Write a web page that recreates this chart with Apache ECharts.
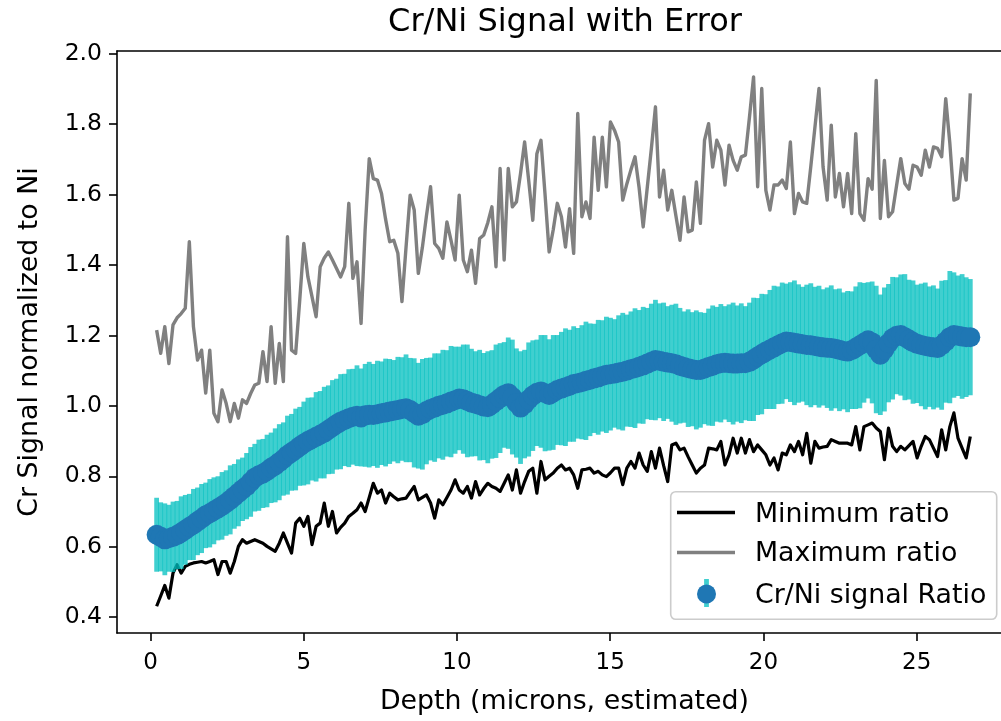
<!DOCTYPE html>
<html>
<head>
<meta charset="utf-8">
<script src="https://cdn.jsdelivr.net/npm/echarts@6.0.0/dist/echarts.min.js"></script>
<style>
html,body{margin:0;padding:0;background:#fff;}
#chart{width:1001px;height:721px;}
</style>
</head>
<body>
<div id="chart"></div>
<script>
// ---------------- data ----------------
const depth = [
0.200,0.333,0.467,0.600,0.734,0.867,1.000,1.134,1.267,1.401,
1.534,1.667,1.801,1.934,2.068,2.201,2.334,2.468,2.601,2.735,
2.868,3.001,3.135,3.268,3.402,3.535,3.668,3.802,3.935,4.069,
4.202,4.335,4.469,4.602,4.736,4.869,5.002,5.136,5.269,5.403,
5.536,5.669,5.803,5.936,6.070,6.203,6.336,6.470,6.603,6.737,
6.870,7.003,7.137,7.270,7.404,7.537,7.670,7.804,7.937,8.071,
8.204,8.337,8.471,8.604,8.738,8.871,9.004,9.138,9.271,9.405,
9.538,9.671,9.805,9.938,10.072,10.205,10.338,10.472,10.605,10.739,
10.872,11.005,11.139,11.272,11.406,11.539,11.672,11.806,11.939,12.073,
12.206,12.339,12.473,12.606,12.740,12.873,13.006,13.140,13.273,13.407,
13.540,13.673,13.807,13.940,14.074,14.207,14.340,14.474,14.607,14.741,
14.874,15.007,15.141,15.274,15.408,15.541,15.674,15.808,15.941,16.075,
16.208,16.341,16.475,16.608,16.742,16.875,17.008,17.142,17.275,17.409,
17.542,17.675,17.809,17.942,18.076,18.209,18.342,18.476,18.609,18.743,
18.876,19.009,19.143,19.276,19.410,19.543,19.676,19.810,19.943,20.077,
20.210,20.343,20.477,20.610,20.744,20.877,21.010,21.144,21.277,21.411,
21.544,21.677,21.811,21.944,22.078,22.211,22.344,22.478,22.611,22.745,
22.878,23.011,23.145,23.278,23.412,23.545,23.678,23.812,23.945,24.079,
24.212,24.345,24.479,24.612,24.746,24.879,25.012,25.146,25.279,25.413,
25.546,25.679,25.813,25.946,26.080,26.213,26.346,26.480,26.613,26.747
];

const minRatio = [
0.431,0.46,0.49,0.454,0.525,0.549,0.525,0.544,0.55,0.554,
0.556,0.558,0.554,0.558,0.563,0.521,0.558,0.558,0.525,0.558,
0.601,0.620,0.610,0.615,0.620,0.615,0.610,0.601,0.594,0.587,
0.610,0.639,0.610,0.582,0.667,0.681,0.658,0.686,0.606,0.658,
0.667,0.724,0.658,0.700,0.639,0.655,0.667,0.686,0.695,0.705,
0.724,0.700,0.74,0.780,0.752,0.761,0.724,0.752,0.742,0.733,
0.736,0.738,0.755,0.771,0.733,0.74,0.747,0.724,0.681,0.733,
0.719,0.74,0.761,0.790,0.761,0.752,0.771,0.738,0.785,0.747,
0.765,0.780,0.771,0.766,0.757,0.78,0.804,0.761,0.818,0.752,
0.785,0.814,0.823,0.752,0.842,0.790,0.80,0.809,0.823,0.832,
0.818,0.823,0.804,0.766,0.818,0.82,0.823,0.809,0.814,0.804,
0.799,0.81,0.823,0.823,0.776,0.823,0.842,0.823,0.866,0.832,
0.814,0.870,0.823,0.880,0.83,0.785,0.889,0.894,0.875,0.880,
0.855,0.832,0.809,0.823,0.832,0.880,0.878,0.875,0.899,0.832,
0.861,0.908,0.866,0.908,0.866,0.904,0.870,0.889,0.875,0.861,
0.832,0.852,0.818,0.866,0.861,0.889,0.870,0.899,0.861,0.922,
0.837,0.899,0.880,0.883,0.885,0.904,0.899,0.894,0.894,0.894,
0.889,0.941,0.875,0.941,0.946,0.951,0.937,0.927,0.847,0.937,
0.885,0.870,0.885,0.875,0.887,0.899,0.852,0.885,0.913,0.904,
0.88,0.856,0.932,0.875,0.941,0.980,0.908,0.88,0.852,0.913
];

const maxRatio = [
1.215,1.149,1.225,1.12,1.23,1.25,1.262,1.277,1.466,1.225,
1.13,1.158,1.036,1.158,0.979,0.955,1.045,1.007,0.955,1.007,
0.965,1.017,1.007,1.035,1.059,1.064,1.154,1.069,1.225,1.064,
1.177,1.069,1.48,1.158,1.149,1.30,1.461,1.366,1.31,1.253,
1.395,1.42,1.437,1.414,1.39,1.366,1.395,1.575,1.362,1.409,
1.234,1.50,1.702,1.645,1.641,1.603,1.53,1.466,1.47,1.433,
1.296,1.45,1.598,1.556,1.376,1.45,1.54,1.622,1.461,1.447,
1.419,1.522,1.47,1.414,1.598,1.414,1.381,1.442,1.348,1.475,
1.485,1.52,1.565,1.395,1.674,1.414,1.674,1.565,1.579,1.66,
1.749,1.64,1.527,1.716,1.754,1.60,1.437,1.50,1.575,1.537,
1.451,1.560,1.433,1.830,1.537,1.579,1.532,1.763,1.612,1.763,
1.622,1.806,1.782,1.749,1.584,1.63,1.67,1.707,1.62,1.508,
1.62,1.73,1.849,1.593,1.669,1.556,1.612,1.54,1.47,1.593,
1.494,1.499,1.636,1.518,1.754,1.801,1.678,1.754,1.726,1.627,
1.740,1.697,1.669,1.707,1.712,1.820,1.934,1.622,1.901,1.612,
1.556,1.627,1.627,1.641,1.617,1.749,1.546,1.603,1.579,1.575,
1.68,1.79,1.901,1.678,1.584,1.797,1.593,1.660,1.565,1.660,
1.546,1.773,1.546,1.527,1.645,1.615,1.924,1.532,1.697,1.537,
1.551,1.627,1.702,1.631,1.615,1.683,1.678,1.655,1.726,1.678,
1.735,1.731,1.707,1.872,1.745,1.584,1.589,1.702,1.641,1.887
];

const meanRatio = [
0.634,0.628,0.621,0.624,0.628,0.633,0.640,0.648,0.656,0.663,
0.672,0.680,0.689,0.695,0.702,0.709,0.716,0.724,0.733,0.743,
0.753,0.763,0.772,0.784,0.796,0.803,0.808,0.815,0.824,0.831,
0.840,0.849,0.860,0.868,0.876,0.885,0.893,0.900,0.906,0.912,
0.918,0.924,0.932,0.940,0.948,0.955,0.960,0.965,0.969,0.972,
0.967,0.973,0.975,0.974,0.976,0.979,0.981,0.984,0.986,0.988,
0.991,0.993,0.988,0.980,0.972,0.976,0.985,0.991,0.995,1.000,
1.003,1.007,1.012,1.016,1.021,1.019,1.014,1.009,1.006,1.002,
0.998,0.996,1.004,1.013,1.022,1.031,1.036,1.025,1.008,0.995,
1.005,1.018,1.029,1.037,1.041,1.036,1.031,1.038,1.045,1.049,
1.053,1.057,1.062,1.064,1.067,1.071,1.074,1.078,1.081,1.085,
1.088,1.090,1.092,1.095,1.097,1.100,1.104,1.107,1.111,1.115,
1.120,1.125,1.130,1.128,1.125,1.123,1.121,1.118,1.114,1.110,
1.107,1.104,1.102,1.102,1.106,1.110,1.114,1.118,1.121,1.122,
1.121,1.120,1.120,1.121,1.121,1.125,1.132,1.140,1.147,1.154,
1.160,1.166,1.172,1.178,1.183,1.181,1.179,1.177,1.175,1.173,
1.172,1.170,1.168,1.166,1.165,1.164,1.162,1.159,1.156,1.154,
1.158,1.165,1.172,1.179,1.186,1.180,1.160,1.145,1.160,1.178,
1.192,1.199,1.201,1.195,1.188,1.181,1.176,1.173,1.170,1.168,
1.166,1.164,1.172,1.183,1.195,1.201,1.199,1.197,1.195,1.195
];

const ratioError = [
0.105,0.098,0.102,0.095,0.100,0.097,0.103,0.099,0.094,0.101,
0.096,0.098,0.093,0.097,0.095,0.091,0.096,0.093,0.098,0.092,
0.095,0.090,0.094,0.099,0.096,0.101,0.098,0.103,0.100,0.105,
0.108,0.104,0.112,0.109,0.116,0.112,0.119,0.123,0.118,0.127,
0.124,0.130,0.126,0.133,0.129,0.135,0.131,0.139,0.136,0.143,
0.139,0.146,0.150,0.145,0.152,0.147,0.153,0.149,0.144,0.151,
0.147,0.153,0.148,0.155,0.150,0.157,0.151,0.146,0.154,0.149,
0.156,0.151,0.158,0.152,0.147,0.155,0.160,0.153,0.149,0.157,
0.152,0.159,0.154,0.161,0.156,0.150,0.158,0.163,0.155,0.160,
0.154,0.162,0.157,0.151,0.160,0.165,0.158,0.163,0.156,0.161,
0.167,0.159,0.164,0.157,0.162,0.168,0.160,0.155,0.163,0.158,
0.165,0.160,0.154,0.162,0.167,0.159,0.164,0.170,0.161,0.166,
0.158,0.165,0.171,0.163,0.168,0.160,0.166,0.172,0.164,0.158,
0.167,0.162,0.169,0.164,0.158,0.166,0.171,0.163,0.168,0.161,
0.167,0.173,0.165,0.170,0.162,0.168,0.175,0.166,0.171,0.163,
0.169,0.175,0.167,0.172,0.164,0.170,0.177,0.168,0.163,0.171,
0.176,0.168,0.173,0.165,0.171,0.178,0.169,0.174,0.166,0.172,
0.167,0.174,0.179,0.170,0.165,0.173,0.181,0.171,0.176,0.168,
0.174,0.166,0.172,0.179,0.170,0.175,0.168,0.174,0.180,0.171,
0.176,0.169,0.183,0.174,0.188,0.178,0.171,0.177,0.170,0.165
];

const xTicks = [0, 5, 10, 15, 20, 25];
const yTicks = [0.4, 0.6, 0.8, 1.0, 1.2, 1.4, 1.6, 1.8, 2.0];
const titleText = 'Cr/Ni Signal with Error';
const xLabel = 'Depth (microns, estimated)';
const yLabel = 'Cr Signal normalized to Ni';
const legendNames = ['Minimum ratio', 'Maximum ratio', 'Cr/Ni signal Ratio'];

// ---------------- chart ----------------
const FONT = 'DejaVu Sans';
const X_MIN = -1.093, X_MAX = 28.108;
const Y_MIN = 0.355, Y_MAX = 2.0075;

const chart = echarts.init(document.getElementById('chart'), null, {renderer: 'canvas', width: 1001, height: 721});

const pairs = arr => depth.map((d, i) => [d, arr[i]]);
const errData = depth.map((d, i) => [d, meanRatio[i] - ratioError[i], meanRatio[i] + ratioError[i]]);

const spine = {color: '#000', width: 1.6};

const legendTextStyle = (txt, x, y) => ({
  type: 'text', x: x, y: y, z: 102,
  style: {text: txt, fontFamily: FONT, fontSize: 26.8, fill: '#000',
          align: 'left', verticalAlign: 'middle', textAlign: 'left', textVerticalAlign: 'middle'}
});

const option = {
  animation: false,
  backgroundColor: '#fff',
  title: {
    text: titleText, left: 565, top: 7, textAlign: 'center', padding: 0,
    textStyle: {fontFamily: FONT, fontSize: 32, fontWeight: 'normal', color: '#000'}
  },
  grid: {left: 117, top: 51, right: -11, bottom: 88, outerBoundsMode: 'none', containLabel: false},
  xAxis: [{
    type: 'value', min: X_MIN, max: X_MAX, position: 'bottom',
    axisLine: {show: true, onZero: false, lineStyle: spine},
    axisTick: {show: true, length: 8, lineStyle: {color: '#000', width: 1.6}, customValues: xTicks},
    axisLabel: {customValues: xTicks, margin: 19, fontFamily: FONT, fontSize: 23, color: '#000'},
    splitLine: {show: false},
    name: xLabel, nameLocation: 'middle', nameGap: 56,
    nameTextStyle: {fontFamily: FONT, fontSize: 26.8, color: '#000'}
  }, {
    type: 'value', min: X_MIN, max: X_MAX, position: 'top',
    axisLine: {show: true, onZero: false, lineStyle: spine},
    axisTick: {show: false}, axisLabel: {show: false}, splitLine: {show: false}
  }],
  yAxis: {
    type: 'value', min: Y_MIN, max: Y_MAX, position: 'left',
    axisLine: {show: true, onZero: false, lineStyle: spine},
    axisTick: {show: true, length: 8, lineStyle: {color: '#000', width: 1.6}, customValues: yTicks},
    axisLabel: {customValues: yTicks, margin: 15, fontFamily: FONT, fontSize: 23.5, color: '#000',
                formatter: v => Number(v).toFixed(1)},
    splitLine: {show: false},
    name: yLabel, nameLocation: 'middle', nameGap: 73, nameRotate: 90,
    nameTextStyle: {fontFamily: FONT, fontSize: 26.8, color: '#000'}
  },
  series: [
    {
      type: 'line', name: legendNames[0], data: pairs(minRatio),
      showSymbol: false, symbol: 'none', z: 2,
      lineStyle: {color: '#000000', width: 3.2, join: 'round'}
    },
    {
      type: 'line', name: legendNames[1], data: pairs(maxRatio),
      showSymbol: false, symbol: 'none', z: 2,
      lineStyle: {color: '#808080', width: 3.4, join: 'round'}
    },
    {
      type: 'custom', name: legendNames[2] + ' error', data: errData, z: 3,
      encode: {x: 0, y: [1, 2]},
      renderItem: function (params, api) {
        const p1 = api.coord([api.value(0), api.value(1)]);
        const p2 = api.coord([api.value(0), api.value(2)]);
        return {
          type: 'line',
          shape: {x1: p1[0], y1: p1[1], x2: p2[0], y2: p2[1]},
          style: {stroke: 'rgba(0,191,191,0.75)', lineWidth: 4.8, lineCap: 'butt'}
        };
      }
    },
    {
      type: 'scatter', name: legendNames[2], data: pairs(meanRatio), z: 4,
      symbol: 'circle', symbolSize: 20,
      itemStyle: {color: '#1f77b4', opacity: 1, borderWidth: 0}
    }
  ],
  graphic: [
    {type: 'rect', z: 100, shape: {x: 670.7, y: 491.7, width: 326, height: 127.6, r: 5},
     style: {fill: 'rgba(255,255,255,0.8)', stroke: '#cccccc', lineWidth: 1.6}},
    {type: 'line', z: 101, shape: {x1: 677, y1: 512.5, x2: 735, y2: 512.5},
     style: {stroke: '#000000', lineWidth: 3.4}},
    legendTextStyle(legendNames[0], 755, 515),
    {type: 'line', z: 101, shape: {x1: 677, y1: 552.5, x2: 735, y2: 552.5},
     style: {stroke: '#808080', lineWidth: 3.4}},
    legendTextStyle(legendNames[1], 755, 554),
    {type: 'line', z: 101, shape: {x1: 706.5, y1: 579, x2: 706.5, y2: 607},
     style: {stroke: 'rgba(0,191,191,0.75)', lineWidth: 4.8}},
    {type: 'circle', z: 102, shape: {cx: 706.5, cy: 594, r: 9.5},
     style: {fill: '#1f77b4'}},
    legendTextStyle(legendNames[2], 755, 596)
  ]
};

chart.setOption(option);
</script>
</body>
</html>
